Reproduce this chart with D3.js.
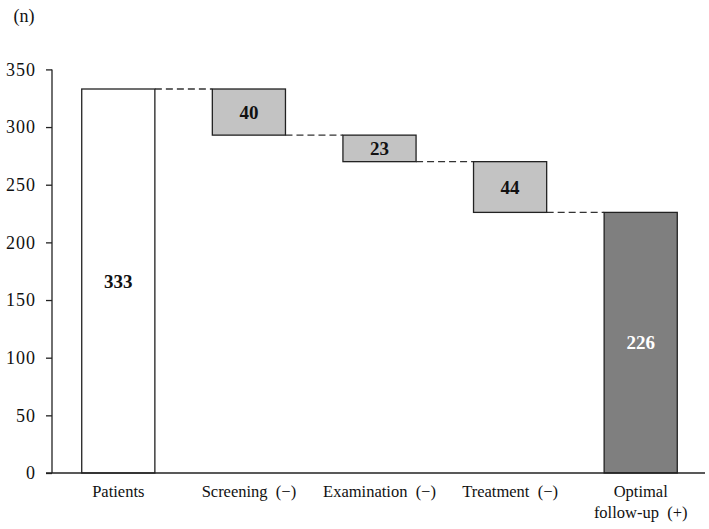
<!DOCTYPE html>
<html>
<head>
<meta charset="utf-8">
<script src="https://cdn.jsdelivr.net/npm/d3@7"></script>
<style>
  body { margin: 0; background: #fff; }
  svg text { font-family: "Times New Roman", "Liberation Serif", "DejaVu Serif", serif; }
</style>
</head>
<body>
<div id="chart"></div>
<script>
// waterfall: start total, three drops, end total
const categories = ["Patients", "Screening\u2002(\u2212)", "Examination\u2002(\u2212)", "Treatment\u2002(\u2212)", "Optimal|follow-up\u2002(+)"];
const steps = [333, -40, -23, -44, 226];
const kinds = ["total", "drop", "drop", "drop", "result"];
const yTicks = [0, 50, 100, 150, 200, 250, 300, 350];

const width = 709, height = 529;
const serif = '"Times New Roman", "Liberation Serif", serif';
const svg = d3.select("#chart").append("svg")
    .attr("width", width)
    .attr("height", height)
    .attr("font-family", serif);

const x = d3.scaleBand()
    .domain(categories)
    .range([53, 706])
    .paddingInner(0.44)
    .paddingOuter(0.22);

const y = d3.scaleLinear()
    .domain([0, 350])
    .range([473, 69.4]);

// compute start/end of each bar
let running = 0;
const bars = categories.map((c, i) => {
    let y0, y1;
    if (kinds[i] === "drop") {
        y0 = running + steps[i];
        y1 = running;
        running = y0;
    } else {
        y0 = 0;
        y1 = steps[i];
        running = steps[i];
    }
    return { cat: c, kind: kinds[i], y0: y0, y1: y1, label: Math.abs(steps[i]), level: running };
});

const fills = { total: "#ffffff", drop: "#c3c3c3", result: "#7f7f7f" };

// dashed connectors between bars
const connectors = bars.slice(0, -1).map((b, i) => ({
    x1: x(b.cat) + x.bandwidth(),
    x2: x(bars[i + 1].cat),
    v: b.level
}));
svg.append("g").selectAll("line")
    .data(connectors)
    .enter().append("line")
    .attr("x1", d => d.x1)
    .attr("x2", d => d.x2)
    .attr("y1", d => y(d.v))
    .attr("y2", d => y(d.v))
    .style("stroke", "#333")
    .style("stroke-width", 1.3)
    .style("stroke-dasharray", "7,4");

svg.append("g").selectAll("rect")
    .data(bars)
    .enter().append("rect")
    .attr("x", d => x(d.cat))
    .attr("width", x.bandwidth())
    .attr("y", d => y(d.y1))
    .attr("height", d => y(d.y0) - y(d.y1))
    .style("fill", d => fills[d.kind])
    .style("stroke", "#222")
    .style("stroke-width", 1.3);

svg.append("g").selectAll("text")
    .data(bars)
    .enter().append("text")
    .attr("x", d => x(d.cat) + x.bandwidth() / 2)
    .attr("y", d => y((d.y0 + d.y1) / 2))
    .attr("dy", "0.35em")
    .attr("text-anchor", "middle")
    .style("font-size", "19px")
    .style("font-weight", "bold")
    .style("fill", d => d.kind === "result" ? "#fff" : "#111")
    .text(d => d.label);

// y axis
const yAxis = svg.append("g")
    .attr("transform", "translate(52,0)")
    .call(d3.axisLeft(y).tickValues(yTicks).tickSize(6).tickPadding(10))
    .attr("font-family", serif);
yAxis.select(".domain").attr("d", `M0,${y(350)}V${y(0)}`).style("stroke", "#222").style("stroke-width", 1.3);
yAxis.selectAll(".tick line").style("stroke", "#222").style("stroke-width", 1.3);
yAxis.selectAll(".tick text")
    .style("font-size", "18px")
    .style("letter-spacing", "1px")
    .style("fill", "#111");

// baseline
svg.append("line")
    .attr("x1", 46).attr("x2", 705)
    .attr("y1", y(0)).attr("y2", y(0))
    .style("stroke", "#222")
    .style("stroke-width", 1.3);

// category labels (| splits lines)
const catLabels = svg.append("g").selectAll("text")
    .data(categories)
    .enter().append("text")
    .attr("x", d => x(d) + x.bandwidth() / 2)
    .attr("y", 497)
    .attr("text-anchor", "middle")
    .style("font-size", "16.5px")
    .style("fill", "#111");
catLabels.each(function(d) {
    const parts = d.split("|");
    d3.select(this).selectAll("tspan")
        .data(parts)
        .enter().append("tspan")
        .attr("x", x(d) + x.bandwidth() / 2)
        .attr("dy", (p, i) => i === 0 ? 0 : 21)
        .text(p => p);
});

svg.append("text")
    .attr("x", 24)
    .attr("y", 22)
    .attr("text-anchor", "middle")
    .style("font-size", "18px")
    .style("fill", "#111")
    .text("(n)");
</script>
</body>
</html>
